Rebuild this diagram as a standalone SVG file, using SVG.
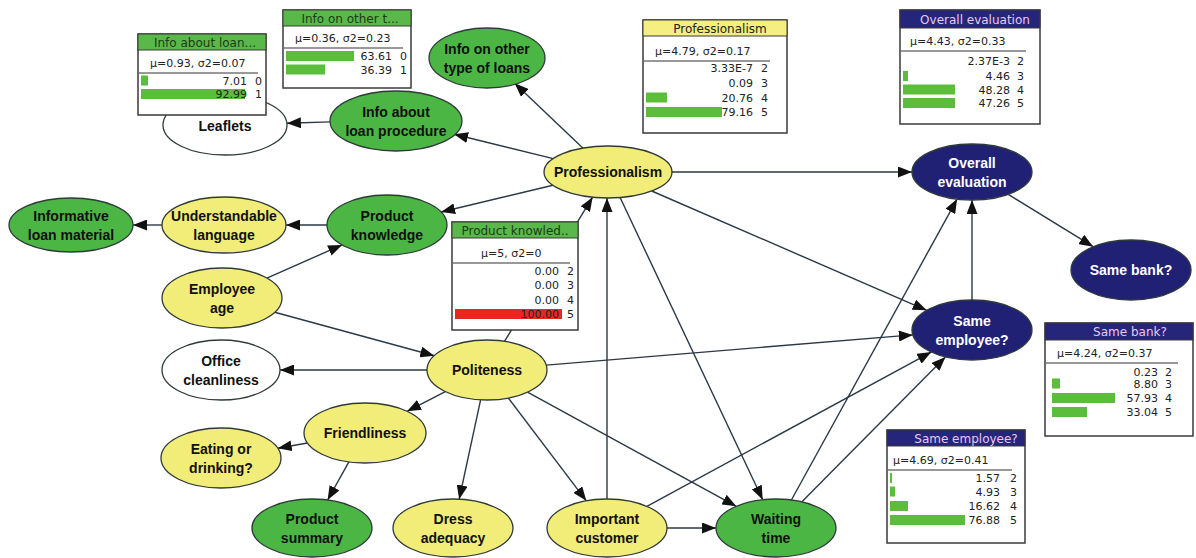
<svg xmlns="http://www.w3.org/2000/svg" width="1196" height="558" viewBox="0 0 1196 558">
<defs>
<marker id="ah" markerWidth="15" markerHeight="11" refX="14" refY="5.5" orient="auto" markerUnits="userSpaceOnUse"><path d="M0,0 L14,5.5 L0,11 z" fill="#111"/></marker>
<style>
.e{stroke:#2e3a3a;stroke-width:1.3}
.g{fill:#4cb644}.y{fill:#f2ec78}.w{fill:#fff}.n{fill:#202075}
.t{font-family:"Liberation Sans",Arial,sans-serif;font-weight:bold;font-size:14px;fill:#111;text-anchor:middle}
.tw{fill:#fff}
.c line{stroke:#2b3845;stroke-width:1.4;marker-end:url(#ah)}
.bx{fill:#fff;stroke:#3a3a3a;stroke-width:1.5}
.hg{fill:#5ab84a;stroke:#3a3a3a;stroke-width:1}
.hy{fill:#f5ee80;stroke:#3a3a3a;stroke-width:1}
.hn{fill:#25257a;stroke:#3a3a3a;stroke-width:1}
.ht{font-family:"DejaVu Sans",Verdana,sans-serif;font-size:12px;text-anchor:middle;fill:#1e3a18}
.htn{fill:#ecc8f0}
.htk{fill:#222}
.m{font-family:"DejaVu Sans",Verdana,sans-serif;font-size:11px;fill:#222}
.v{font-family:"DejaVu Sans",Verdana,sans-serif;font-size:11px;fill:#222;text-anchor:end}
.sp{stroke:#333;stroke-width:1}
.bar{fill:#5cbc3c}
.red{fill:#e8281e}
</style>
</defs>
<rect width="1196" height="558" fill="#fff"/>
<g id="connectors" class="c">
<line x1="582.8" y1="148.1" x2="514.7" y2="83.3"/>
<line x1="553.2" y1="158.6" x2="454.1" y2="134.2"/>
<line x1="330.1" y1="121.9" x2="286.9" y2="123.2"/>
<line x1="552.9" y1="185.2" x2="441.1" y2="212"/>
<line x1="327" y1="225" x2="286" y2="225"/>
<line x1="162" y1="225" x2="133" y2="225"/>
<line x1="266.9" y1="278.1" x2="342.1" y2="244.9"/>
<line x1="274.7" y1="312.3" x2="434.3" y2="355.7"/>
<line x1="427" y1="370" x2="280" y2="370"/>
<line x1="445.3" y1="391.6" x2="407.1" y2="411.3"/>
<line x1="307.5" y1="443" x2="277.7" y2="448.2"/>
<line x1="348.9" y1="461.9" x2="327.6" y2="500"/>
<line x1="480.6" y1="399.8" x2="459.2" y2="499.2"/>
<line x1="508.3" y1="398" x2="586.3" y2="500.8"/>
<line x1="527.5" y1="392.1" x2="736.3" y2="506.3"/>
<line x1="546.2" y1="365.1" x2="912.8" y2="334.9"/>
<line x1="504.5" y1="341.3" x2="592.6" y2="197.2"/>
<line x1="607" y1="499" x2="607" y2="198"/>
<line x1="620.1" y1="197.5" x2="762.7" y2="499.7"/>
<line x1="667" y1="528" x2="716" y2="528"/>
<line x1="646.9" y1="506.3" x2="931.3" y2="352.1"/>
<line x1="791.4" y1="500" x2="957.1" y2="199.1"/>
<line x1="801.9" y1="501.8" x2="945.4" y2="356.9"/>
<line x1="672" y1="172" x2="912" y2="172"/>
<line x1="651.7" y1="191" x2="926.7" y2="310.3"/>
<line x1="972" y1="300" x2="972" y2="200"/>
<line x1="1008.2" y1="194.3" x2="1093.2" y2="246.7"/>
</g>
<g id="n-info-other"><ellipse class="e g" cx="487" cy="58" rx="58" ry="30"/><text class="t" x="487" y="54">Info on other</text><text class="t" x="487" y="73">type of loans</text></g>
<g id="n-info-proc"><ellipse class="e g" cx="396" cy="121" rx="66" ry="30"/><text class="t" x="396" y="117">Info about</text><text class="t" x="396" y="136">loan procedure</text></g>
<g id="n-leaflets"><ellipse class="e w" cx="225" cy="125" rx="62" ry="30"/><text class="t" x="225" y="131">Leaflets</text></g>
<g id="n-prof"><ellipse class="e y" cx="608" cy="172" rx="64" ry="26"/><text class="t" x="608" y="177">Professionalism</text></g>
<g id="n-prodk"><ellipse class="e g" cx="387" cy="225" rx="60" ry="30"/><text class="t" x="387" y="221">Product</text><text class="t" x="387" y="240">knowledge</text></g>
<g id="n-underst"><ellipse class="e y" cx="224" cy="225" rx="62" ry="28"/><text class="t" x="224" y="221">Understandable</text><text class="t" x="224" y="240">language</text></g>
<g id="n-inform"><ellipse class="e g" cx="71" cy="225" rx="62" ry="27"/><text class="t" x="71" y="221">Informative</text><text class="t" x="71" y="240">loan material</text></g>
<g id="n-empage"><ellipse class="e y" cx="222" cy="298" rx="60" ry="30"/><text class="t" x="222" y="294">Employee</text><text class="t" x="222" y="313">age</text></g>
<g id="n-office"><ellipse class="e w" cx="221" cy="370" rx="59" ry="30"/><text class="t" x="221" y="366">Office</text><text class="t" x="221" y="385">cleanliness</text></g>
<g id="n-polite"><ellipse class="e y" cx="487" cy="370" rx="60" ry="30"/><text class="t" x="487" y="375">Politeness</text></g>
<g id="n-friend"><ellipse class="e y" cx="365" cy="433" rx="61" ry="30"/><text class="t" x="365" y="438">Friendliness</text></g>
<g id="n-eating"><ellipse class="e y" cx="221" cy="458" rx="60" ry="30"/><text class="t" x="221" y="454">Eating or</text><text class="t" x="221" y="473">drinking?</text></g>
<g id="n-prodsum"><ellipse class="e g" cx="312" cy="528" rx="60" ry="29"/><text class="t" x="312" y="524">Product</text><text class="t" x="312" y="543">summary</text></g>
<g id="n-dress"><ellipse class="e y" cx="453" cy="528" rx="60" ry="29"/><text class="t" x="453" y="524">Dress</text><text class="t" x="453" y="543">adequacy</text></g>
<g id="n-important"><ellipse class="e y" cx="607" cy="528" rx="60" ry="29"/><text class="t" x="607" y="524">Important</text><text class="t" x="607" y="543">customer</text></g>
<g id="n-waiting"><ellipse class="e g" cx="776" cy="528" rx="60" ry="29"/><text class="t" x="776" y="524">Waiting</text><text class="t" x="776" y="543">time</text></g>
<g id="n-overall"><ellipse class="e n" cx="972" cy="172" rx="60" ry="28"/><text class="t tw" x="972" y="168">Overall</text><text class="t tw" x="972" y="187">evaluation</text></g>
<g id="n-sameemp"><ellipse class="e n" cx="972" cy="330" rx="60" ry="30"/><text class="t tw" x="972" y="326">Same</text><text class="t tw" x="972" y="345">employee?</text></g>
<g id="n-samebank"><ellipse class="e n" cx="1131" cy="270" rx="60" ry="30"/><text class="t tw" x="1131" y="275">Same bank?</text></g>

<g id="m-info-proc">
<rect class="bx" x="138" y="34" width="128" height="81"/><rect class="hg" x="138" y="34" width="128" height="16"/>
<text class="ht" x="205" y="46.5">Info about loan...</text>
<text class="m" x="150" y="67">μ=0.93, σ2=0.07</text><line class="sp" x1="139" y1="73" x2="258" y2="73"/>
<rect class="bar" x="141" y="75.5" width="7" height="10"/><text class="v" x="247" y="84.5">7.01</text><text class="v" x="262" y="84.5">0</text>
<rect class="bar" x="141" y="89" width="104" height="10"/><text class="v" x="247" y="98">92.99</text><text class="v" x="262" y="98">1</text>
</g>
<g id="m-info-other">
<rect class="bx" x="283" y="10" width="128" height="78"/><rect class="hg" x="283" y="10" width="128" height="16"/>
<text class="ht" x="350" y="22.5">Info on other t...</text>
<text class="m" x="295" y="42">μ=0.36, σ2=0.23</text><line class="sp" x1="284" y1="48" x2="403" y2="48"/>
<rect class="bar" x="286" y="51" width="68" height="10"/><text class="v" x="392" y="60">63.61</text><text class="v" x="407" y="60">0</text>
<rect class="bar" x="286" y="64.5" width="39" height="10"/><text class="v" x="392" y="73.5">36.39</text><text class="v" x="407" y="73.5">1</text>
</g>
<g id="m-prof">
<rect class="bx" x="643" y="20" width="144" height="113"/><rect class="hy" x="643" y="20" width="144" height="16"/>
<text class="ht htk" x="720" y="32.5">Professionalism</text>
<text class="m" x="655" y="55">μ=4.79, σ2=0.17</text><line class="sp" x1="644" y1="61" x2="770" y2="61"/>
<text class="v" x="753" y="72">3.33E-7</text><text class="v" x="768" y="72">2</text>
<text class="v" x="753" y="87">0.09</text><text class="v" x="768" y="87">3</text>
<rect class="bar" x="646" y="92.5" width="21" height="10"/><text class="v" x="753" y="101.5">20.76</text><text class="v" x="768" y="101.5">4</text>
<rect class="bar" x="646" y="107" width="76" height="10"/><text class="v" x="753" y="116">79.16</text><text class="v" x="768" y="116">5</text>
</g>
<g id="m-overall">
<rect class="bx" x="900" y="10" width="140" height="114"/><rect class="hn" x="900" y="10" width="140" height="18"/>
<text class="ht htn" x="975" y="23.5">Overall evaluation</text>
<text class="m" x="910" y="45">μ=4.43, σ2=0.33</text><line class="sp" x1="901" y1="51" x2="1026" y2="51"/>
<text class="v" x="1010" y="65">2.37E-3</text><text class="v" x="1024" y="65">2</text>
<rect class="bar" x="903" y="71" width="5" height="10"/><text class="v" x="1010" y="80">4.46</text><text class="v" x="1024" y="80">3</text>
<rect class="bar" x="903" y="84.5" width="52" height="10"/><text class="v" x="1010" y="93.5">48.28</text><text class="v" x="1024" y="93.5">4</text>
<rect class="bar" x="903" y="98" width="52" height="10"/><text class="v" x="1010" y="107">47.26</text><text class="v" x="1024" y="107">5</text>
</g>
<g id="m-prodk">
<rect class="bx" x="452" y="222" width="126" height="108"/><rect class="hg" x="452" y="222" width="126" height="16"/>
<text class="ht" x="515" y="234.5">Product knowled..</text>
<text class="m" x="481" y="257">μ=5, σ2=0</text><line class="sp" x1="453" y1="263" x2="570" y2="263"/>
<text class="v" x="559" y="275">0.00</text><text class="v" x="574" y="275">2</text>
<text class="v" x="559" y="289">0.00</text><text class="v" x="574" y="289">3</text>
<text class="v" x="559" y="303.5">0.00</text><text class="v" x="574" y="303.5">4</text>
<rect class="red" x="455" y="309" width="107" height="10"/><text class="v" x="559" y="318" fill="#7a1010">100.00</text><text class="v" x="574" y="318">5</text>
</g>
<g id="m-sameemp">
<rect class="bx" x="887" y="430" width="138" height="113"/><rect class="hn" x="887" y="430" width="138" height="16"/>
<text class="ht htn" x="966" y="442.5">Same employee?</text>
<text class="m" x="893" y="464">μ=4.69, σ2=0.41</text><line class="sp" x1="888" y1="470" x2="1012" y2="470"/>
<rect class="bar" x="890" y="473" width="2" height="10"/><text class="v" x="1000" y="482">1.57</text><text class="v" x="1017" y="482">2</text>
<rect class="bar" x="890" y="486.5" width="5" height="10"/><text class="v" x="1000" y="495.5">4.93</text><text class="v" x="1017" y="495.5">3</text>
<rect class="bar" x="890" y="501" width="18" height="10"/><text class="v" x="1000" y="510">16.62</text><text class="v" x="1017" y="510">4</text>
<rect class="bar" x="890" y="515" width="75" height="10"/><text class="v" x="1000" y="524">76.88</text><text class="v" x="1017" y="524">5</text>
</g>
<g id="m-samebank">
<rect class="bx" x="1045" y="323" width="148" height="113"/><rect class="hn" x="1045" y="323" width="148" height="17"/>
<text class="ht htn" x="1130" y="336">Same bank?</text>
<text class="m" x="1057" y="357">μ=4.24, σ2=0.37</text><line class="sp" x1="1046" y1="363" x2="1178" y2="363"/>
<text class="v" x="1158" y="376">0.23</text><text class="v" x="1172" y="376">2</text>
<rect class="bar" x="1052" y="378.5" width="8" height="10"/><text class="v" x="1158" y="387.5">8.80</text><text class="v" x="1172" y="387.5">3</text>
<rect class="bar" x="1052" y="393" width="63" height="10"/><text class="v" x="1158" y="402">57.93</text><text class="v" x="1172" y="402">4</text>
<rect class="bar" x="1052" y="407" width="35" height="10"/><text class="v" x="1158" y="416">33.04</text><text class="v" x="1172" y="416">5</text>
</g>
</svg>
